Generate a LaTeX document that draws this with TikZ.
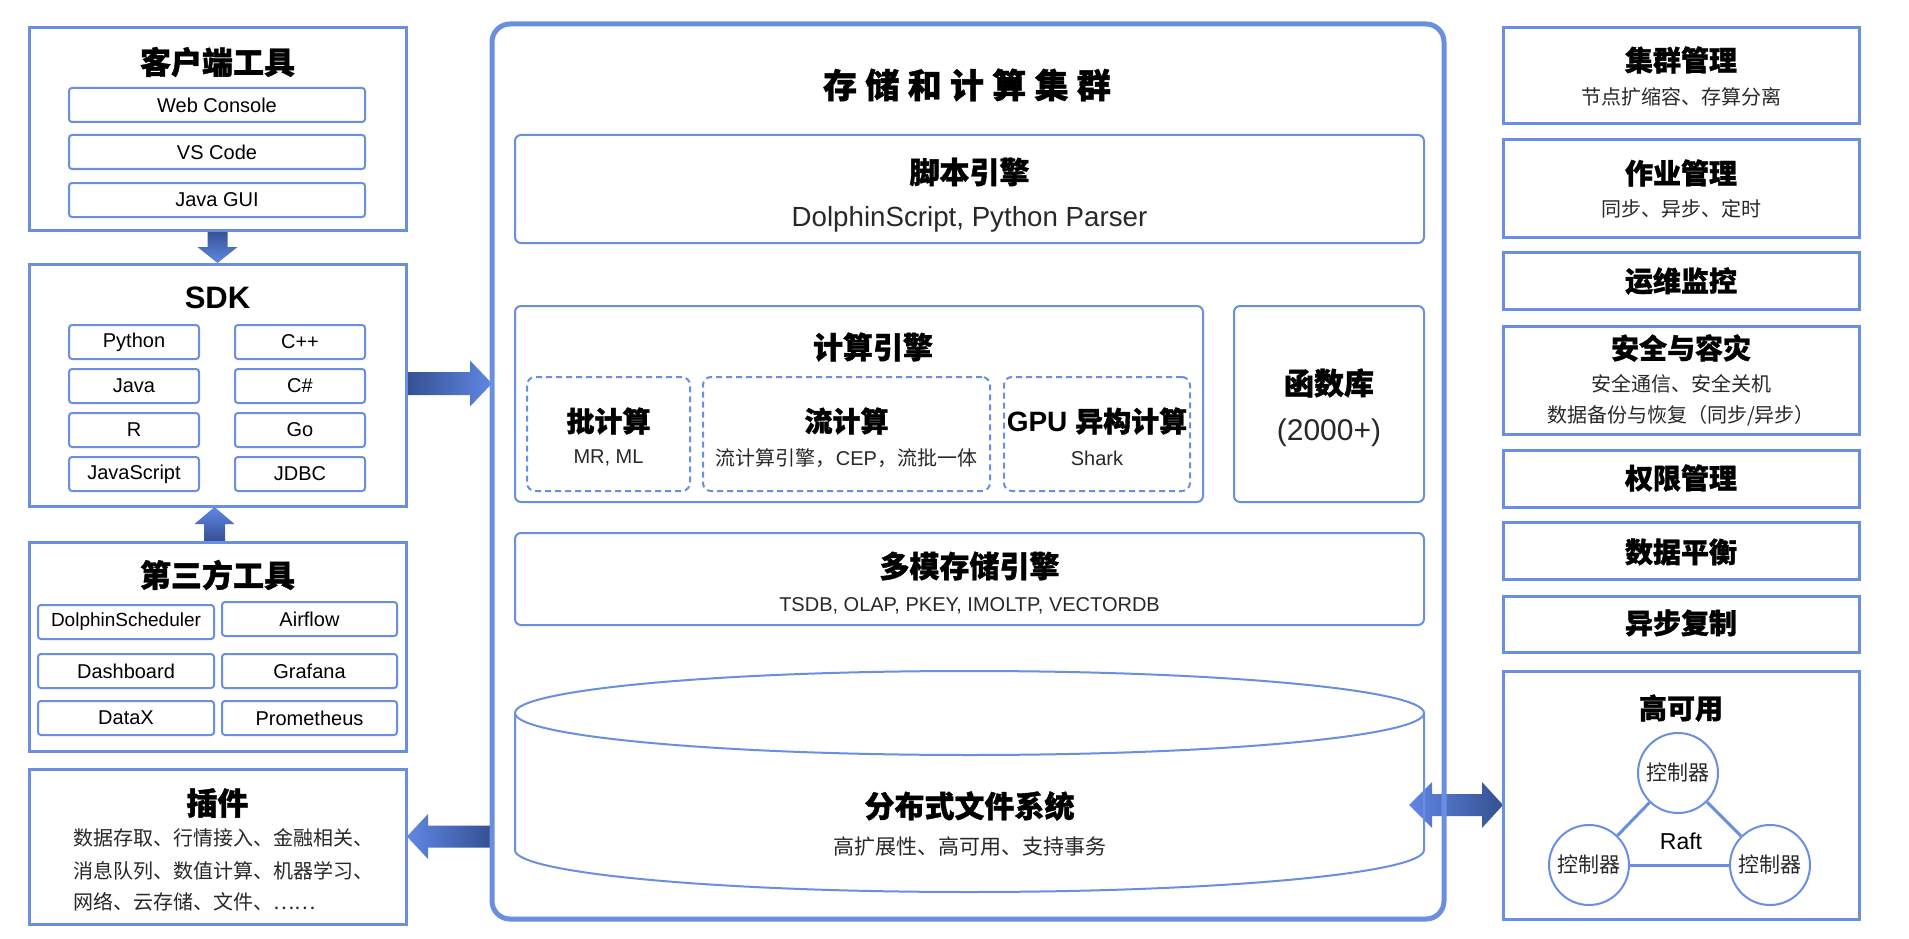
\documentclass[tikz,border=0pt]{standalone}
\usepackage{fontspec}
\setmainfont{Liberation Sans}
\newfontfamily\cjk{Noto Sans CJK SC}[BoldFeatures={FakeBold=1.2}]
\usetikzlibrary{calc}
\definecolor{bline}{RGB}{106,143,224}
\definecolor{adark}{RGB}{52,80,145}
\definecolor{alight}{RGB}{96,135,228}
\definecolor{subtxt}{RGB}{40,40,40}
\newcommand\fsz[2]{\fontsize{#1}{#2}\selectfont}
\newcommand\bx[7][]{\node[#1, minimum width={(#5)-(#3)}, minimum height={(#6)-(#4)}] (#2) at ({((#3)+(#5))/2},{((#4)+(#6))/2}) {#7};}
\newcommand\spc{\hspace{8.3pt}}
\pgfdeclarelayer{bg}
\pgfsetlayers{bg,main}
\begin{document}
\begin{tikzpicture}[x=1pt,y=-1pt,
  outer/.style={draw=bline, line width=3pt, inner sep=0pt, outer sep=0pt},
  btn/.style={draw=bline, line width=2pt, rounded corners=3pt, inner sep=0pt, outer sep=0pt, font=\fsz{20}{24}},
  inbox/.style={draw=bline, line width=2pt, rounded corners=6pt, inner sep=0pt, outer sep=0pt},
  dbox/.style={draw=bline, line width=2pt, dash pattern=on 6pt off 4pt, rounded corners=8pt, inner sep=0pt, outer sep=0pt},
  ttl/.style={inner sep=0pt, font=\cjk\bfseries\fsz{30}{36}},
  sttl/.style={inner sep=0pt, font=\cjk\bfseries\fsz{28}{34}},
  rttl/.style={inner sep=0pt, font=\cjk\bfseries\fsz{28}{34}},
  sub/.style={inner sep=0pt, text=subtxt, font=\cjk\fsz{20}{24}},
  lsub/.style={inner sep=0pt, text=subtxt, font=\fsz{20}{24}},
  ctrl/.style={circle, draw=bline, line width=2pt, minimum size=80pt, inner sep=0pt, fill=white, text=subtxt, font=\cjk\fsz{21}{24}},
  cyl/.style={draw=bline, line width=2pt}
]
\useasboundingbox (0,0) rectangle (1909,939);
\begin{pgfonlayer}{bg}
\fill[white] (0,0) rectangle (1909,939);
\end{pgfonlayer}

% ---------------- left column ----------------
\bx[outer]{client}{29}{28}{406}{230}{}
\node[ttl, font=\cjk\bfseries\fsz{31}{36}] (tclient) at (217.5,62) {客户端工具};
\bx[btn]{wc}{69}{88}{365}{122}{Web Console}
\bx[btn]{vs}{69}{135}{365}{169}{VS Code}
\bx[btn]{jg}{69}{183}{365}{217}{Java GUI}

\bx[outer]{sdk}{29}{264}{406}{506}{}
\node[inner sep=0pt, font=\bfseries\fsz{31}{36}] (tsdk) at (217.5,298) {SDK};
\bx[btn]{py}{69}{325}{199}{359}{Python}
\bx[btn]{cpp}{235}{325}{365}{359}{C++}
\bx[btn]{java}{69}{369}{199}{403}{Java}
\bx[btn]{cs}{235}{369}{365}{403}{C\#}
\bx[btn]{rr}{69}{413}{199}{447}{R}
\bx[btn]{go}{235}{413}{365}{447}{Go}
\bx[btn]{js}{69}{457}{199}{491}{JavaScript}
\bx[btn]{jdbc}{235}{457}{365}{491}{JDBC}

\bx[outer]{third}{29}{542}{406}{751}{}
\node[ttl, font=\cjk\bfseries\fsz{31}{36}] (tthird) at (217.5,575) {第三方工具};
\bx[btn, font=\fsz{19}{24}]{ds}{38}{605}{214}{639}{DolphinScheduler}
\bx[btn]{af}{222}{602}{397}{636}{Airflow}
\bx[btn]{db}{38}{654}{214}{688}{Dashboard}
\bx[btn]{gf}{222}{654}{397}{688}{Grafana}
\bx[btn]{dx}{38}{701}{214}{735}{DataX}
\bx[btn]{pm}{222}{701}{397}{735}{Prometheus}

\bx[outer]{plug}{29}{769}{406}{924}{}
\node[ttl, font=\cjk\bfseries\fsz{31}{36}] (tplug) at (217.5,803) {插件};
\node[sub, anchor=west] (pl1) at (73,838) {数据存取、行情接入、金融相关、};
\node[sub, anchor=west] (pl2) at (73,871) {消息队列、数值计算、机器学习、};
\node[sub, anchor=west] (pl3) at (73,902) {网络、云存储、文件、……};

% ---------------- main cluster ----------------
\bx[draw=bline, line width=5pt, rounded corners=18pt, inner sep=0pt, outer sep=0pt]{main}{492}{24}{1444}{919}{}
\node[inner sep=0pt, font=\cjk\bfseries\fsz{34}{40}] (tmain) at (967,85) {存\spc 储\spc 和\spc 计\spc 算\spc 集\spc 群};

\bx[inbox]{script}{515}{135}{1424}{243}{}
\node[ttl] (tscript) at (969.5,172) {脚本引擎};
\node[inner sep=0pt, text=subtxt, font=\fsz{27.7}{32}] (sscript) at (969.5,219) {DolphinScript, Python Parser};

\bx[inbox]{compute}{515}{306}{1203}{502}{}
\node[ttl] (tcompute) at (873,347) {计算引擎};
\bx[dbox]{batch}{527}{377}{690}{491}{}
\bx[dbox]{stream}{703}{377}{990}{491}{}
\bx[dbox]{gpu}{1004}{377}{1190}{491}{}
\node[sttl] (tbatch) at (608.5,421) {批计算};
\node[lsub] (sbatch) at (608.5,458) {MR, ML};
\node[sttl] (tstream) at (846.5,421) {流计算};
\node[lsub] (sstream) at (846.5,458) {{\cjk 流计算引擎，}CEP{\cjk ，流批一体}};
\node[inner sep=0pt, font=\bfseries\fsz{28}{34}] (tgpu) at (1097,421) {GPU {\cjk 异构计算}};
\node[lsub] (sgpu) at (1097,458) {Shark};

\bx[inbox]{func}{1234}{306}{1424}{502}{}
\node[ttl] (tfunc) at (1329,383) {函数库};
\node[inner sep=0pt, font=\fsz{30}{36}, text=subtxt] (sfunc) at (1329,433) {(2000+)};

\bx[inbox]{multi}{515}{533}{1424}{625}{}
\node[ttl] (tmulti) at (969.5,566) {多模存储引擎};
\node[lsub] (smulti) at (969.5,606) {TSDB, OLAP, PKEY, IMOLTP, VECTORDB};

% cylinder
\draw[cyl] (969.5,713) ellipse [x radius=454.5pt, y radius=42pt];
\draw[cyl] (515,713) -- (515,850) arc[start angle=180, end angle=360, x radius=454.5pt, y radius=42pt] -- (1424,713);
\coordinate (cylE) at (1424,805);
\node[ttl] (tdfs) at (969.5,806) {分布式文件系统};
\node[sub, font=\cjk\fsz{21}{24}] (sdfs) at (969.5,847) {高扩展性、高可用、支持事务};

% ---------------- right column ----------------
\bx[outer]{cm}{1503}{28}{1859}{124}{}
\node[rttl] (tcm) at (1681,60) {集群管理};
\node[sub] (scm) at (1681,97) {节点扩缩容、存算分离};
\bx[outer]{jm}{1503}{140}{1859}{237}{}
\node[rttl] (tjm) at (1681,173) {作业管理};
\node[sub] (sjm) at (1681,209) {同步、异步、定时};
\bx[outer]{om}{1503}{252}{1859}{309}{}
\node[rttl] (tom) at (1681,281) {运维监控};
\bx[outer]{sec}{1503}{326}{1859}{434}{}
\node[rttl] (tsec) at (1681,348) {安全与容灾};
\node[sub] (ssec1) at (1681,384) {安全通信、安全关机};
\node[sub] (ssec2) at (1681,416) {数据备份与恢复（同步/异步）};
\bx[outer]{perm}{1503}{450}{1859}{507}{}
\node[rttl] (tperm) at (1681,478) {权限管理};
\bx[outer]{bal}{1503}{522}{1859}{579}{}
\node[rttl] (tbal) at (1681,552) {数据平衡};
\bx[outer]{rep}{1503}{596}{1859}{652}{}
\node[rttl] (trep) at (1681,623) {异步复制};
\bx[outer]{ha}{1503}{671}{1859}{919}{}
\node[rttl] (tha) at (1681,708) {高可用};
\node[ctrl] (c1) at (1678,773) {控制器};
\node[ctrl] (c2) at (1589,865) {控制器};
\node[ctrl] (c3) at (1770,865) {控制器};
\node[inner sep=0pt, font=\fsz{23}{26}] (raft) at (1681,841) {Raft};

% ---------------- arrows ----------------
\begin{pgfonlayer}{bg}
\draw[bline, line width=3pt] (c1) -- (c2);
\draw[bline, line width=3pt] (c2) -- (c3);
\draw[bline, line width=3pt] (c3) -- (c1);
% client -> sdk
\coordinate (dA) at (client.south);
\coordinate (dB) at (sdk.north);
\shade[top color=adark, bottom color=alight] ($(dA)+(-10,0)$) -- ($(dB)+(-10,-17)$) -- ($(dB)+(-20,-17)$) -- ($(dB)+(0,-1)$) -- ($(dB)+(20,-17)$) -- ($(dB)+(10,-17)$) -- ($(dA)+(10,0)$) -- cycle;
% third -> sdk
\coordinate (uA) at ($(third.north)+(-3,0)$);
\coordinate (uB) at ($(sdk.south)+(-3,0)$);
\shade[top color=alight, bottom color=adark] ($(uA)+(-10.5,0)$) -- ($(uB)+(-10.5,18)$) -- ($(uB)+(-20,18)$) -- ($(uB)+(0,1)$) -- ($(uB)+(20,18)$) -- ($(uB)+(10.5,18)$) -- ($(uA)+(10.5,0)$) -- cycle;
% sdk -> main
\coordinate (rA) at ($(sdk.east)+(0,-1.5)$);
\coordinate (rB) at (rA -| main.west);
\shade[left color=adark, right color=alight] ($(rA)+(0,-11.5)$) -- ($(rB)+(-22,-11.5)$) -- ($(rB)+(-22,-23)$) -- (rB) -- ($(rB)+(-22,23)$) -- ($(rB)+(-22,11.5)$) -- ($(rA)+(0,11.5)$) -- cycle;
% main -> plug
\coordinate (lB) at ($(plug.east)+(1,-10)$);
\coordinate (lA) at (lB -| main.west);
\shade[left color=alight, right color=adark] ($(lA)+(0,-11)$) -- ($(lB)+(21,-11)$) -- ($(lB)+(21,-22.5)$) -- (lB) -- ($(lB)+(21,22.5)$) -- ($(lB)+(21,11)$) -- ($(lA)+(0,11)$) -- cycle;
% dfs <-> ha
\coordinate (dL) at ($(cylE)+(-15,0)$);
\coordinate (dR) at (dL -| ha.west);
\shade[left color=alight, right color=adark] (dL) -- ($(dL)+(23,-23)$) -- ($(dL)+(23,-11)$) -- ($(dR)+(-21,-11)$) -- ($(dR)+(-21,-23)$) -- (dR) -- ($(dR)+(-21,23)$) -- ($(dR)+(-21,11)$) -- ($(dL)+(23,11)$) -- ($(dL)+(23,23)$) -- cycle;
\end{pgfonlayer}
\end{tikzpicture}
\end{document}
